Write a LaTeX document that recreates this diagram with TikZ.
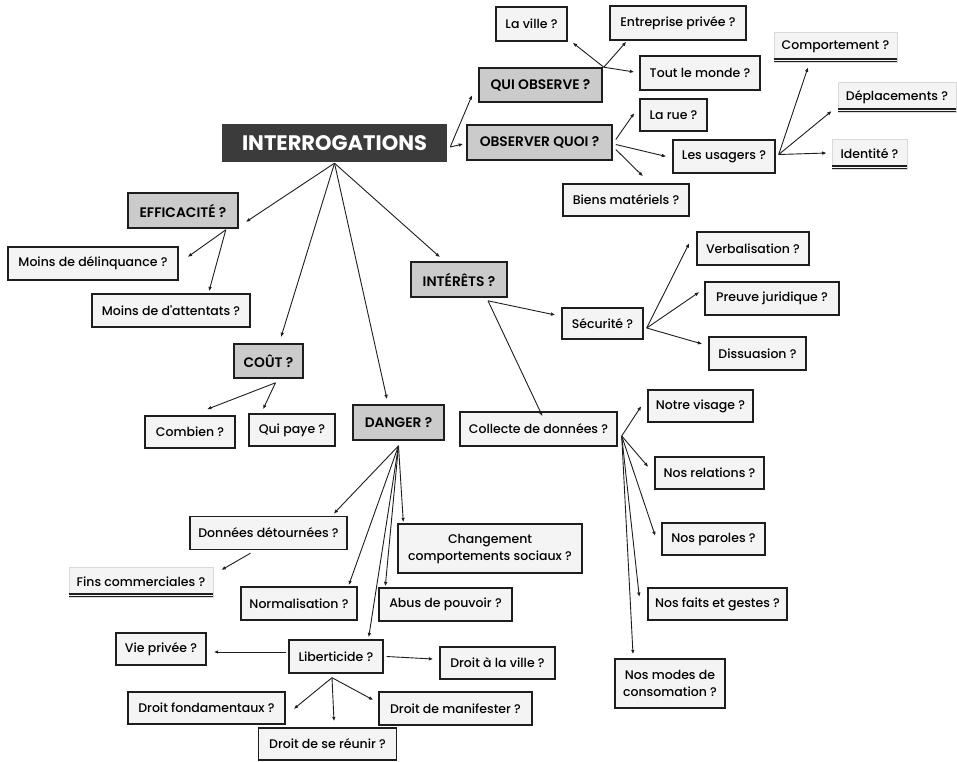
\documentclass[tikz,border=0pt]{standalone}
\usepackage{fontspec}
\setmainfont{Poppins}[UprightFont={* Medium}, BoldFont={* SemiBold}]
\newfontfamily\rootfont{Poppins}[UprightFont={* Bold}]
\newfontfamily\aposfont{Poppins}[UprightFont={* Medium}]
\usetikzlibrary{arrows.meta}
\definecolor{leafc}{HTML}{F4F4F4}
\definecolor{headc}{HTML}{CBCBCB}
\definecolor{rootc}{HTML}{3B3B3B}
\definecolor{edgec}{HTML}{1E1E1E}
\newcommand\mbx[6]{\node[#1, minimum width=#4pt, minimum height=#5pt] (#2) at #3 {#6};}
\begin{document}
\begin{tikzpicture}[x=1pt,y=-1pt,
 every node/.style={inner sep=0pt, align=center},
 leafbox/.style={draw=edgec, line width=1.4pt, fill=leafc, font=\fontsize{12.5}{17}\selectfont},
 headbox/.style={draw=edgec, line width=1.6pt, fill=headc, font=\fontsize{13.8}{16}\selectfont\bfseries},
 rootbox/.style={fill=rootc, text=white, font=\fontsize{21}{24}\selectfont\rootfont},
 ulbox/.style={draw=black!15, line width=0.6pt, fill=leafc, font=\fontsize{12.5}{17}\selectfont},
 uline/.style={draw=edgec, line width=1.2pt, double=leafc, double distance=1.3pt},
 arr/.style={draw=edgec, line width=0.9pt, -{Latex[length=4.5pt,width=3.6pt]}},
]
\useasboundingbox (0,0) rectangle (957,761);
\fill[white] (0,0) rectangle (957,761);

% root and heads
\mbx{rootbox}{root}{(334.5,143)}{225}{38}{INTERROGATIONS}
\mbx{headbox}{qui}{(540.5,85)}{123}{34}{QUI OBSERVE ?}
\mbx{headbox}{obsq}{(539.5,142.5)}{145}{35}{OBSERVER QUOI ?}
\mbx{headbox}{effi}{(183,210.5)}{110}{35}{EFFICACITÉ ?}
\mbx{headbox}{cout}{(268.5,361)}{69}{34}{COÛT ?}
\mbx{headbox}{danger}{(398.5,422.5)}{91}{35}{DANGER ?}
\mbx{headbox}{inter}{(459,279.5)}{96}{35}{INTÉRÊTS ?}

% leaves
\mbx{leafbox}{ville}{(531.5,24)}{71}{34}{La ville ?}
\mbx{leafbox}{entr}{(678,23)}{136}{34}{Entreprise privée ?}
\mbx{leafbox}{tout}{(700,73)}{120}{34}{Tout le monde ?}
\mbx{leafbox}{rue}{(673.5,115)}{67}{32}{La rue ?}
\mbx{leafbox}{usag}{(724,156.5)}{102}{33}{Les usagers ?}
\mbx{leafbox}{biens}{(626,200)}{126}{32}{Biens matériels ?}
\mbx{ulbox}{comp}{(835.5,47)}{123}{30}{Comportement ?}
\mbx{ulbox}{depl}{(897,97)}{118}{30}{Déplacements ?}
\mbx{ulbox}{ident}{(869.5,154)}{75}{30}{Identité ?}
\mbx{leafbox}{moinsd}{(93,263.5)}{170}{33}{Moins de délinquance ?}
\mbx{leafbox}{moinsa}{(171,310.5)}{158}{33}{Moins de d{\aposfont'}attentats ?}
\mbx{leafbox}{comb}{(190,432)}{90}{32}{Combien ?}
\mbx{leafbox}{paye}{(292,430)}{86}{32}{Qui paye ?}
\mbx{leafbox}{secu}{(602.5,323.5)}{81}{31}{Sécurité ?}
\mbx{leafbox}{verb}{(753,248.5)}{112}{33}{Verbalisation ?}
\mbx{leafbox}{preuve}{(772,298.5)}{134}{33}{Preuve juridique ?}
\mbx{leafbox}{diss}{(757.5,353.5)}{97}{33}{Dissuasion ?}
\mbx{leafbox}{coll}{(538.5,429)}{157}{34}{Collecte de données ?}
\mbx{leafbox}{visage}{(700.5,406)}{105}{32}{Notre visage ?}
\mbx{leafbox}{relat}{(709.5,473)}{109}{32}{Nos relations ?}
\mbx{leafbox}{paroles}{(713.5,539)}{103}{32}{Nos paroles ?}
\mbx{leafbox}{faits}{(717.5,604)}{139}{32}{Nos faits et gestes ?}
\mbx{leafbox}{modes}{(670,683.5)}{110}{49}{Nos modes de\\consomation ?}
\mbx{leafbox}{detour}{(268.5,533)}{157}{33}{Données détournées ?}
\mbx{ulbox}{fins}{(141,582)}{144}{30}{Fins commerciales ?}
\mbx{leafbox}{chang}{(490,548.5)}{184}{49}{Changement\\comportements sociaux ?}
\mbx{leafbox}{norm}{(299,603.5)}{116}{33}{Normalisation ?}
\mbx{leafbox}{abus}{(445.5,604.5)}{133}{33}{Abus de pouvoir ?}
\mbx{leafbox}{vie}{(161,649)}{90}{32}{Vie privée ?}
\mbx{leafbox}{liber}{(336,656.5)}{94}{33}{Liberticide ?}
\mbx{leafbox}{droitv}{(497.5,663)}{115}{32}{Droit à la ville ?}
\mbx{leafbox}{fond}{(206.5,708)}{157}{32}{Droit fondamentaux ?}
\mbx{leafbox}{manif}{(455.5,708.5)}{153}{33}{Droit de manifester ?}
\mbx{leafbox}{reunir}{(327.5,744)}{138}{32}{Droit de se réunir ?}

% double underlines
\foreach \n in {comp,depl,ident,fins}
  \draw[uline] ([shift={(0,-2)}]\n.south west) -- ([shift={(0,-2)}]\n.south east);

% hubs
\coordinate (hR) at ([shift={(3,4)}]root.east);
\coordinate (hRB) at ([shift={(0,1)}]root.south);
\coordinate (hQ) at ([shift={(1,0)}]qui.north east);
\coordinate (hU) at ([shift={(3,-2)}]usag.east);
\coordinate (hE) at ([shift={(-13,1)}]effi.south east);
\coordinate (hC) at ([shift={(7,4)}]cout.south);
\coordinate (hI) at ([shift={(29,3)}]inter.south);
\coordinate (hS) at ([shift={(3,4.5)}]secu.east);
\coordinate (hCo) at ([shift={(4,7)}]coll.east);
\coordinate (hD) at ([shift={(0,5)}]danger.south);
\coordinate (hL) at ([shift={(-4,4)}]liber.south);

% root
\draw[arr] (hR) -- ([shift={(-6,10)}]qui.west);
\draw[arr] (hR) -- ([shift={(-3,1.5)}]obsq.west);
\draw[arr] (hRB) -- ([shift={(7,11.5)}]effi.east);
\draw[arr] (hRB) -- ([shift={(12.5,-6)}]cout.north);
\draw[arr] (hRB) -- ([shift={(-11.5,-5)}]danger.north);
\draw[arr] (hRB) -- ([shift={(-19,-4)}]inter.north);
% qui observe
\draw[arr] (hQ) -- ([shift={(5,1)}]ville.south east);
\draw[arr] (hQ) -- ([shift={(17,1)}]entr.south west);
\draw[arr] (hQ) -- ([shift={(-5,-1)}]tout.west);
% observer quoi
\draw[arr] ([shift={(3,-3)}]obsq.east) -- ([shift={(-5,-2)}]rue.west);
\draw[arr] ([shift={(3,2)}]obsq.east) -- ([shift={(-6,0)}]usag.west);
\draw[arr] ([shift={(3,7)}]obsq.east) -- ([shift={(17,-7)}]biens.north);
% usagers
\draw[arr] (hU) -- ([shift={(-27.5,5)}]comp.south);
\draw[arr] (hU) -- ([shift={(-6,14)}]depl.west);
\draw[arr] (hU) -- ([shift={(-5,-1)}]ident.west);
% efficacite
\draw[arr] (hE) -- ([shift={(9,-6.5)}]moinsd.east);
\draw[arr] (hE) -- ([shift={(38,-2)}]moinsa.north);
% cout
\draw[arr] (hC) -- ([shift={(17,-6)}]comb.north);
\draw[arr] (hC) -- ([shift={(-29,-4)}]paye.north);
% interets
\draw[arr] (hI) -- ([shift={(-6,-8.5)}]secu.west);
\draw[arr] (hI) -- ([shift={(4,5)}]coll.north);
% securite
\draw[arr] (hS) -- ([shift={(-7,-5.5)}]verb.west);
\draw[arr] (hS) -- ([shift={(-5,-6.5)}]preuve.west);
\draw[arr] (hS) -- ([shift={(-6,-9.5)}]diss.west);
% collecte
\draw[arr] (hCo) -- ([shift={(-6,0)}]visage.west);
\draw[arr] (hCo) -- ([shift={(-6,-6)}]relat.west);
\draw[arr] (hCo) -- ([shift={(-6,-3)}]paroles.west);
\draw[arr] (hCo) -- ([shift={(-8,-7)}]faits.west);
\draw[arr] (hCo) -- ([shift={(-37,-4)}]modes.north);
% danger
\draw[arr] (hD) -- ([shift={(-14,-2)}]detour.north east);
\draw[arr] (hD) -- ([shift={(-9,-1)}]norm.north east);
\draw[arr] (hD) -- ([shift={(-15,-2)}]liber.north east);
\draw[arr] (hD) -- ([shift={(7,-1)}]abus.north west);
\draw[arr] (hD) -- ([shift={(6,-1)}]chang.north west);
\draw[arr] ([shift={(-18,3)}]detour.south) -- ([shift={(8,-12)}]fins.east);
% liberticide
\draw[arr] ([shift={(-2,-4.5)}]liber.west) -- ([shift={(7,3)}]vie.east);
\draw[arr] ([shift={(3,0)}]liber.east) -- ([shift={(-6,-4)}]droitv.west);
\draw[arr] (hL) -- ([shift={(8,1)}]fond.east);
\draw[arr] (hL) -- ([shift={(6.5,-6)}]reunir.north);
\draw[arr] (hL) -- ([shift={(-5,-8.5)}]manif.west);
\end{tikzpicture}
\end{document}
